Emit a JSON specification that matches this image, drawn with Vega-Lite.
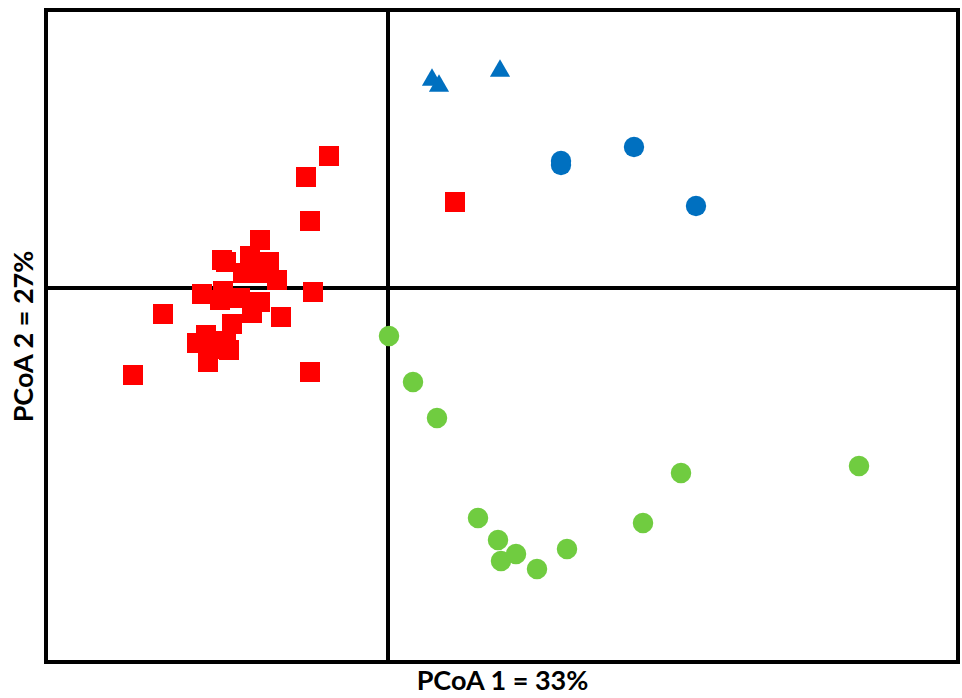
{
  "$schema": "https://vega.github.io/schema/vega-lite/v6.json",
  "width": 912,
  "height": 652,
  "autosize": "none",
  "padding": {"left": 46, "top": 10, "right": 4, "bottom": 36},
  "background": "white",
  "config": {
    "view": {"stroke": "black", "strokeWidth": 4},
    "axis": {"grid": false, "domain": false, "ticks": false, "labels": false, "titleFont": "Lato", "titleFontSize": 27, "titleFontWeight": "bold", "titleColor": "black"}
  },
  "datasets": {
    "pts": [
      {"pc1": -0.059, "pc2": 0.132, "group": "red"},
      {"pc1": -0.082, "pc2": 0.111, "group": "red"},
      {"pc1": -0.078, "pc2": 0.067, "group": "red"},
      {"pc1": -0.075, "pc2": -0.004, "group": "red"},
      {"pc1": -0.225, "pc2": -0.026, "group": "red"},
      {"pc1": -0.255, "pc2": -0.087, "group": "red"},
      {"pc1": -0.078, "pc2": -0.084, "group": "red"},
      {"pc1": -0.107, "pc2": -0.029, "group": "red"},
      {"pc1": 0.067, "pc2": 0.086, "group": "red"},
      {"pc1": -0.128, "pc2": 0.048, "group": "red"},
      {"pc1": -0.166, "pc2": 0.028, "group": "red"},
      {"pc1": -0.162, "pc2": 0.026, "group": "red"},
      {"pc1": -0.138, "pc2": 0.032, "group": "red"},
      {"pc1": -0.119, "pc2": 0.026, "group": "red"},
      {"pc1": -0.145, "pc2": 0.015, "group": "red"},
      {"pc1": -0.131, "pc2": 0.015, "group": "red"},
      {"pc1": -0.111, "pc2": 0.008, "group": "red"},
      {"pc1": -0.186, "pc2": -0.006, "group": "red"},
      {"pc1": -0.165, "pc2": -0.003, "group": "red"},
      {"pc1": -0.168, "pc2": -0.012, "group": "red"},
      {"pc1": -0.148, "pc2": -0.010, "group": "red"},
      {"pc1": -0.128, "pc2": -0.014, "group": "red"},
      {"pc1": -0.136, "pc2": -0.025, "group": "red"},
      {"pc1": -0.156, "pc2": -0.036, "group": "red"},
      {"pc1": -0.182, "pc2": -0.047, "group": "red"},
      {"pc1": -0.191, "pc2": -0.055, "group": "red"},
      {"pc1": -0.180, "pc2": -0.074, "group": "red"},
      {"pc1": -0.159, "pc2": -0.062, "group": "red"},
      {"pc1": -0.162, "pc2": -0.053, "group": "red"},
      {"pc1": -0.178, "pc2": -0.061, "group": "red"},
      {"pc1": 0.044, "pc2": 0.211, "group": "blue triangle"},
      {"pc1": 0.051, "pc2": 0.205, "group": "blue triangle"},
      {"pc1": 0.112, "pc2": 0.220, "group": "blue triangle"},
      {"pc1": 0.173, "pc2": 0.127, "group": "blue circle"},
      {"pc1": 0.173, "pc2": 0.123, "group": "blue circle"},
      {"pc1": 0.246, "pc2": 0.141, "group": "blue circle"},
      {"pc1": 0.308, "pc2": 0.082, "group": "blue circle"},
      {"pc1": 0.001, "pc2": -0.048, "group": "green"},
      {"pc1": 0.025, "pc2": -0.094, "group": "green"},
      {"pc1": 0.049, "pc2": -0.130, "group": "green"},
      {"pc1": 0.090, "pc2": -0.230, "group": "green"},
      {"pc1": 0.110, "pc2": -0.252, "group": "green"},
      {"pc1": 0.113, "pc2": -0.273, "group": "green"},
      {"pc1": 0.128, "pc2": -0.266, "group": "green"},
      {"pc1": 0.149, "pc2": -0.281, "group": "green"},
      {"pc1": 0.179, "pc2": -0.261, "group": "green"},
      {"pc1": 0.255, "pc2": -0.235, "group": "green"},
      {"pc1": 0.293, "pc2": -0.185, "group": "green"},
      {"pc1": 0.471, "pc2": -0.178, "group": "green"}
    ]
  },
  "layer": [
    {
      "data": {"values": [{"v": 0}]},
      "mark": {"type": "rule", "color": "black", "strokeWidth": 4},
      "encoding": {"x": {"field": "v", "type": "quantitative", "scale": {"domain": [-0.342, 0.570], "nice": false, "zero": false}, "axis": {"title": "PCoA 1 = 33%", "titlePadding": 6}}}
    },
    {
      "data": {"values": [{"v": 0}]},
      "mark": {"type": "rule", "color": "black", "strokeWidth": 4},
      "encoding": {"y": {"field": "v", "type": "quantitative", "scale": {"domain": [-0.374, 0.278], "nice": false, "zero": false}, "axis": {"title": "PCoA 2 = 27%", "titlePadding": 8}}}
    },
    {
      "data": {"name": "pts"},
      "mark": {"type": "point", "filled": true, "opacity": 1, "strokeWidth": 0},
      "encoding": {
        "x": {"field": "pc1", "type": "quantitative"},
        "y": {"field": "pc2", "type": "quantitative"},
        "color": {"field": "group", "type": "nominal", "scale": {"domain": ["red", "blue triangle", "blue circle", "green"], "range": ["#FF0000", "#0070C0", "#0070C0", "#70CC40"]}, "legend": null},
        "shape": {"field": "group", "type": "nominal", "scale": {"domain": ["red", "blue triangle", "blue circle", "green"], "range": ["square", "triangle-up", "circle", "circle"]}, "legend": null},
        "size": {"field": "group", "type": "nominal", "scale": {"domain": ["red", "blue triangle", "blue circle", "green"], "range": [400, 420, 300, 300]}, "legend": null}
      }
    }
  ]
}
